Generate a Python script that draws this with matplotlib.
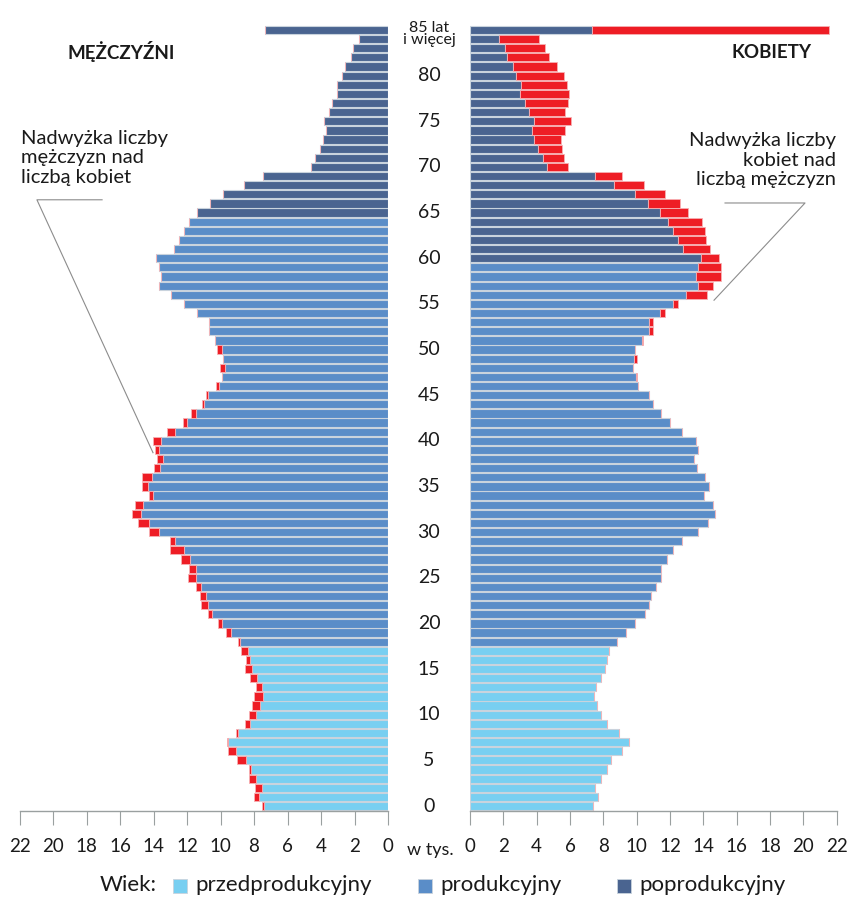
import numpy as np
import matplotlib
matplotlib.use("Agg")
import matplotlib.pyplot as plt
import matplotlib.transforms as mtransforms
from matplotlib.patches import Rectangle

plt.rcParams['font.family'] = ['Lato', 'DejaVu Sans']

# wiek 0..85 (85 = 85 lat i więcej), liczba ludności w tys.
ages = np.arange(86)
men = [7.50, 7.98, 7.96, 8.30, 8.30, 9.03, 9.57, 9.61, 9.09, 8.56,
       8.30, 8.14, 7.98, 7.90, 8.26, 8.52, 8.46, 8.78, 8.96, 9.65,
       10.17, 10.77, 11.18, 11.22, 11.48, 11.96, 11.86, 12.38, 13.01, 13.01,
       14.25, 14.94, 15.28, 15.08, 14.29, 14.71, 14.71, 13.97, 13.81, 13.91,
       14.01, 13.17, 12.26, 11.78, 11.12, 10.87, 10.27, 9.93, 10.03, 9.83,
       10.19, 10.33, 10.71, 10.71, 11.40, 12.16, 12.93, 13.65, 13.57, 13.69,
       13.83, 12.80, 12.50, 12.18, 11.90, 11.42, 10.65, 9.87, 8.62, 7.48,
       4.62, 4.38, 4.08, 3.86, 3.72, 3.84, 3.54, 3.32, 3.02, 3.06,
       2.77, 2.55, 2.19, 2.11, 1.75, 7.32]
women = [7.40, 7.70, 7.50, 7.86, 8.20, 8.46, 9.10, 9.56, 8.94, 8.22,
         7.88, 7.64, 7.44, 7.54, 7.84, 8.10, 8.22, 8.36, 8.82, 9.36,
         9.92, 10.52, 10.72, 10.84, 11.18, 11.48, 11.46, 11.82, 12.20, 12.74,
         13.66, 14.26, 14.72, 14.60, 14.04, 14.32, 14.10, 13.60, 13.42, 13.68,
         13.58, 12.72, 12.00, 11.44, 10.96, 10.74, 10.10, 10.04, 9.76, 10.00,
         9.90, 10.40, 11.00, 11.00, 11.70, 12.50, 14.20, 14.60, 15.04, 15.06,
         14.94, 14.40, 14.16, 14.10, 13.90, 13.10, 12.60, 11.72, 10.44, 9.12,
         5.90, 5.66, 5.54, 5.48, 5.72, 6.06, 5.72, 5.90, 5.94, 5.84,
         5.64, 5.22, 4.76, 4.50, 4.14, 21.56]

# granice grup wieku
men_post_from = 65
women_post_from = 60
prod_from = 18

c_pre = '#78cff1'
c_prod = '#5a8dc8'
c_post = '#4a6490'
c_red = '#ee1d25'

men = np.array(men)
women = np.array(women)
common = np.minimum(men, women)
men_extra = np.clip(men - women, 0, None)
women_extra = np.clip(women - men, 0, None)


def group_colors(post_from):
    cols = []
    for a in ages:
        if a < prod_from:
            cols.append(c_pre)
        elif a < post_from:
            cols.append(c_prod)
        else:
            cols.append(c_post)
    return cols


fig = plt.figure(figsize=(8.48, 8.98), dpi=100)
W, H = 848, 898
bottom = 1 - 810.6 / H
height = (810.6 - 25.4) / H
axL = fig.add_axes([19.5 / W, bottom, (388 - 19.5) / W, height])
axR = fig.add_axes([470 / W, bottom, (836.7 - 470) / W, height])

bh = 0.9
axL.barh(ages, common, height=bh, color=group_colors(men_post_from),
         edgecolor='#c9d3dd', linewidth=0.8)
axL.barh(ages, men_extra, left=common, height=bh, color=c_red,
         edgecolor='#f7b0b3', linewidth=0.6)
axR.barh(ages, common, height=bh, color=group_colors(women_post_from),
         edgecolor='#c9d3dd', linewidth=0.8)
axR.barh(ages, women_extra, left=common, height=bh, color=c_red,
         edgecolor='#f7b0b3', linewidth=0.6)

ticks = np.arange(0, 23, 2)
for ax in (axL, axR):
    ax.set_xlim(0, 22)
    ax.set_ylim(-0.5, 85.5)
    ax.set_xticks(ticks)
    ax.set_xticklabels([str(t) for t in ticks])
    ax.set_yticks([])
    for s in ('top', 'right', 'left'):
        ax.spines[s].set_visible(False)
    ax.spines['bottom'].set_color('#9aa0a0')
    ax.spines['bottom'].set_linewidth(1.0)
    ax.tick_params(axis='x', direction='out', length=10, width=0.8,
                   color='#9aa0a0', labelsize=13.5, labelcolor='#1a1a1a', pad=10)
axL.invert_xaxis()

# etykiety wieku na środku
trans = mtransforms.blended_transform_factory(fig.transFigure, axR.transData)
for a in range(0, 85, 5):
    fig.text(429 / W, a, str(a), transform=trans, ha='center', va='center',
             fontsize=14, color='#1a1a1a')
fig.text(429 / W, 84.55, '85 lat\ni więcej', transform=trans, ha='center',
         va='center', fontsize=11.5, color='#1a1a1a', linespacing=0.85)

fig.text(430 / W, 1 - 850 / H, 'w tys.', ha='center', va='center',
         fontsize=13, color='#1a1a1a')

fig.text(121 / W, 1 - 52 / H, 'MĘŻCZYŹNI', ha='center', va='center',
         fontsize=13.5, fontweight='bold', color='#1a1a1a')
fig.text(772 / W, 1 - 52 / H, 'KOBIETY', ha='center', va='center',
         fontsize=13.5, fontweight='bold', color='#1a1a1a')

fig.text(21 / W, 1 - 158 / H, 'Nadwyżka liczby\nmężczyzn nad\nliczbą kobiet',
         ha='left', va='center', fontsize=14.5, color='#1a1a1a', linespacing=1.15)
fig.text(836 / W, 1 - 160 / H, 'Nadwyżka liczby\nkobiet nad\nliczbą mężczyzn',
         ha='right', va='center', fontsize=14.5, color='#1a1a1a',
         linespacing=1.15, multialignment='right')

# linie odnośników
axL.plot([17.07, 20.96, 14.03], [66.4, 66.4, 38.7], color='#8c8c8c',
         lw=0.8, clip_on=False)
axR.plot([15.3, 20.1, 14.64], [66.05, 66.05, 55.4], color='#8c8c8c',
         lw=0.8, clip_on=False)

# legenda
legend_labels = ['przedprodukcyjny', 'produkcyjny', 'poprodukcyjny']
legend_colors = [c_pre, c_prod, c_post]
legend_x = [173, 418, 617]
fig.text(100 / W, 1 - 885 / H, 'Wiek:', ha='left', va='center',
         fontsize=16, color='#1a1a1a')
for lab, col, x in zip(legend_labels, legend_colors, legend_x):
    fig.patches.append(Rectangle((x / W, 1 - 893 / H), 14 / W, 14 / H,
                                 transform=fig.transFigure, facecolor=col,
                                 edgecolor='#c9d3dd', lw=0.6))
    fig.text((x + 22) / W, 1 - 885 / H, lab, ha='left', va='center',
             fontsize=16, color='#1a1a1a')

fig.savefig('out.png', dpi=100)
